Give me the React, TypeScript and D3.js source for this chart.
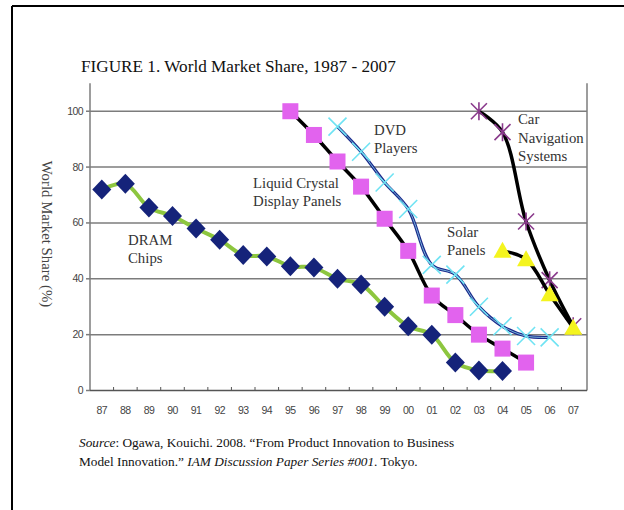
import * as d3 from 'd3'

// year tick labels ('87 .. '07)
const years = ['87', '88', '89', '90', '91', '92', '93', '94', '95', '96', '97', '98', '99', '00', '01', '02', '03', '04', '05', '06', '07']
const yTicks = [0, 20, 40, 60, 80, 100]

// world market share (%) of Japanese makers
const dramStart = '87'
const dramChips = [72, 74, 65.5, 62.5, 58, 54, 48.5, 48, 44.5, 44, 40, 38, 30, 23, 20, 10, 7.2, 7]
const lcdStart = '95'
const lcdPanels = [100, 91.5, 82, 73, 61.5, 50, 34, 27, 20, 15, 10]
const dvdStart = '97'
const dvdPlayers = [94.5, 85.5, 74.5, 65, 45, 41.5, 30, 23, 19.5, 19]
const carStart = '03'
const carNavigation = [100, 92.5, 60.5, 39.5, 23]
const solarStart = '04'
const solarPanels = [50, 47, 34.5, 22.5]

const W = 624
const H = 510
const serif = '"Liberation Serif", "Times New Roman", serif'
const sans = '"Liberation Sans", Arial, sans-serif'

const toPoints = (start, vals) => {
  const i0 = years.indexOf(start)
  return vals.map((v, i) => ({ year: years[i0 + i], value: v }))
}

const App = () => {
  const x = d3.scaleBand().domain(years).range([90, 585])
  const y = d3.scaleLinear().domain([0, 110]).range([390.5, 83.3])
  const cx = (d) => x(d.year) + x.bandwidth() / 2
  const line = d3
    .line()
    .x(cx)
    .y((d) => y(d.value))
    .curve(d3.curveCatmullRom.alpha(0.5))

  const dram = toPoints(dramStart, dramChips)
  const lcd = toPoints(lcdStart, lcdPanels)
  const dvd = toPoints(dvdStart, dvdPlayers)
  const car = toPoints(carStart, carNavigation)
  const solar = toPoints(solarStart, solarPanels)

  const left = 90
  const right = 587

  return (
    <svg width={W} height={H} style={{ position: 'absolute', left: 0, top: 0, background: '#fff' }}>
      {/* page frame */}
      <line x1={12} y1={6} x2={W} y2={6} stroke="#000" strokeWidth={2} />
      <line x1={12} y1={6} x2={12} y2={H} stroke="#000" strokeWidth={2} />

      <text x={81} y={72} fontFamily={serif} fontSize={17.2} fill="#111">
        FIGURE 1. World Market Share, 1987 - 2007
      </text>

      {/* grid */}
      {yTicks.filter((t) => t > 0).map((t) => (
        <line key={t} x1={left} x2={right} y1={y(t)} y2={y(t)} stroke="#7c7c7c" strokeWidth={1.5} />
      ))}
      {yTicks.map((t) => (
        <g key={'yt' + t}>
          <line x1={left - 4} x2={left} y1={y(t)} y2={y(t)} stroke="#7c7c7c" strokeWidth={1.5} />
          <text x={83} y={y(t) + 3.5} textAnchor="end" fontFamily={sans} fontSize={10.5} fill="#444" letterSpacing={-0.6}>
            {t}
          </text>
        </g>
      ))}
      <line x1={left} x2={left} y1={y(110)} y2={y(0)} stroke="#7c7c7c" strokeWidth={1.5} />
      <line x1={right} x2={right} y1={y(110)} y2={y(0)} stroke="#7c7c7c" strokeWidth={1.5} />
      <line x1={left} x2={right} y1={y(0)} y2={y(0)} stroke="#555" strokeWidth={1.5} />
      {years.slice(1).map((yr) => (
        <line key={'xt' + yr} x1={x(yr)} x2={x(yr)} y1={y(0)} y2={y(0) - 3.5} stroke="#555" strokeWidth={1} />
      ))}
      {years.map((yr) => (
        <text key={'xl' + yr} x={x(yr) + x.bandwidth() / 2} y={414} textAnchor="middle" fontFamily={sans} fontSize={10.5} fill="#444" letterSpacing={-0.6}>
          {yr}
        </text>
      ))}

      <text
        transform={`translate(42,234) rotate(90)`}
        textAnchor="middle"
        fontFamily={serif}
        fontSize={14.8}
        fill="#444"
      >
        World Market Share (%)
      </text>

      {/* DRAM chips */}
      <path d={line(dram)} fill="none" stroke="#8dc63f" strokeWidth={4} />
      {dram.map((d) => (
        <path key={'dr' + d.year} transform={`translate(${cx(d)},${y(d.value)})`} d="M0,-10L9.5,0L0,10L-9.5,0Z" fill="#15237a" />
      ))}

      {/* LCD panels */}
      <path d={line(lcd)} fill="none" stroke="#000" strokeWidth={3.5} />
      {lcd.map((d) => (
        <rect key={'lc' + d.year} x={cx(d) - 8} y={y(d.value) - 8} width={16} height={16} fill="#e263ee" />
      ))}

      {/* DVD players */}
      <path d={line(dvd)} fill="none" stroke="#1b2a8c" strokeWidth={3.2} />
      <path d={line(dvd)} fill="none" stroke="#8fd8ee" strokeWidth={0.8} />
      {dvd.map((d) => (
        <path key={'dv' + d.year} transform={`translate(${cx(d)},${y(d.value)})`} d="M-9,-9L9,9M-9,9L9,-9" stroke="#6fe3f3" strokeWidth={1.6} fill="none" />
      ))}

      {/* car navigation */}
      <path d={line(car)} fill="none" stroke="#000" strokeWidth={3.5} />
      {car.map((d) => (
        <path key={'cn' + d.year} transform={`translate(${cx(d)},${y(d.value)})`} d="M-8,-8L8,8M-8,8L8,-8M0,-9L0,9" stroke="#8a3a8c" strokeWidth={1.6} fill="none" />
      ))}

      {/* solar panels */}
      <path d={line(solar)} fill="none" stroke="#000" strokeWidth={3.5} />
      {solar.map((d) => (
        <path key={'sp' + d.year} transform={`translate(${cx(d)},${y(d.value)})`} d="M0,-9L9,7L-9,7Z" fill="#f4f41e" />
      ))}

      {/* series labels */}
      <g fontFamily={serif} fontSize={14.8} fill="#333">
        <text x={128} y={245}>DRAM</text>
        <text x={128} y={263}>Chips</text>
        <text x={253} y={188}>Liquid Crystal</text>
        <text x={253} y={206}>Display Panels</text>
        <text x={374} y={135}>DVD</text>
        <text x={374} y={153}>Players</text>
        <text x={447} y={237}>Solar</text>
        <text x={447} y={255}>Panels</text>
        <text x={518} y={124}>Car</text>
        <text x={518} y={143}>Navigation</text>
        <text x={518} y={161}>Systems</text>
      </g>

      {/* source */}
      <g fontFamily={serif} fontSize={13.3} fill="#111">
        <text x={79} y={447}>
          <tspan fontStyle="italic">Source</tspan>: Ogawa, Kouichi. 2008. “From Product Innovation to Business
        </text>
        <text x={79} y={466}>
          Model Innovation.” <tspan fontStyle="italic">IAM Discussion Paper Series #001</tspan>. Tokyo.
        </text>
      </g>
    </svg>
  )
}

export default App
